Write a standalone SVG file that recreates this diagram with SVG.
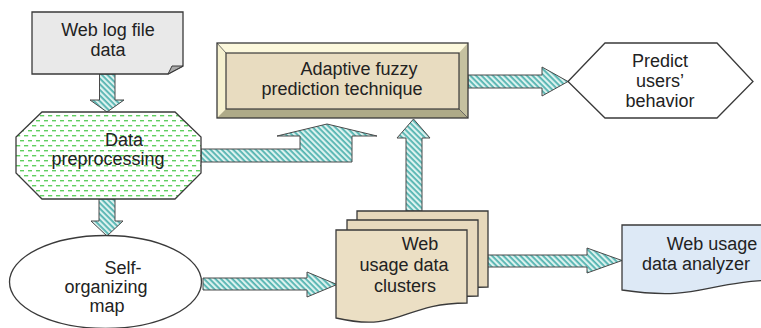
<svg xmlns="http://www.w3.org/2000/svg" width="761" height="328" viewBox="0 0 761 328">
<defs>
  <pattern id="hatch" patternUnits="userSpaceOnUse" width="4" height="4" patternTransform="rotate(45)">
    <rect width="4" height="4" fill="#dcf2ef"/>
    <rect y="0" width="4" height="1.8" fill="#52b3b0"/>
  </pattern>
  <pattern id="dash" patternUnits="userSpaceOnUse" width="8" height="10" x="16" y="114">
    <rect width="8" height="10" fill="#ffffff"/>
    <rect x="0" y="1" width="4.2" height="1.4" fill="#5fcf5f"/>
    <rect x="4" y="6" width="4.2" height="1.4" fill="#5fcf5f"/>
  </pattern>
  <style>
    .arrow { fill: url(#hatch); stroke: #4a4a4a; stroke-width: 1; stroke-linejoin: miter; }
    .edge { stroke: #3a3a3a; stroke-width: 1.3; }
    text { font-family: "Liberation Sans", Arial, sans-serif; font-size: 18px; fill: #222; text-anchor: middle; }
  </style>
</defs>
<rect width="761" height="328" fill="#ffffff"/>

<g id="connectors">
  <polygon class="arrow" points="99.5,74 115,74 115,100 124,100 107,112 90,100 99.5,100"/>
  <polygon class="arrow" points="99,199 115,199 115,221 123,221 107,236 91,221 99,221"/>
  <polygon class="arrow" points="201,149 300,149 300,136 277,136 327,124 377,136 352,136 352,162 201,162"/>
  <polygon class="arrow" points="406,211 406,138 397,138 413.5,119 430,138 422,138 422,211"/>
  <polygon class="arrow" points="468,75 542,75 542,67 568,81.5 542,96 542,88 468,88"/>
  <polygon class="arrow" points="203,278 307,278 307,272 337,284.5 307,297 307,290 203,290"/>
  <polygon class="arrow" points="467,255 587,255 587,248 622,260.5 587,273 587,267 467,267"/>
</g>

<g id="web-log-file">
  <path class="edge" d="M32,12 H183 V66 L168,74 H32 Z" fill="#e9e9e9"/>
  <path d="M183,66 L168,74 L172,66 Z" fill="#a9a9a9" stroke="#3a3a3a" stroke-width="1"/>
  <text x="108" y="36">Web log file</text>
  <text x="108" y="56">data</text>
</g>

<g id="data-preprocessing">
  <polygon class="edge" points="42,112 175,112 201,137 201,173 175,199 42,199 16,173 16,137" fill="url(#dash)"/>
  <text x="124" y="146">Data</text>
  <text x="108" y="165">preprocessing</text>
</g>

<g id="adaptive-fuzzy">
  <rect x="217" y="43" width="251" height="75" fill="#e8dcc0"/>
  <polygon points="217,43 468,43 459,53 226,53" fill="#fcf8dc"/>
  <polygon points="217,43 226,53 226,109 217,118" fill="#f6f1cf"/>
  <polygon points="468,43 468,118 459,109 459,53" fill="#c5c1a0"/>
  <polygon points="217,118 468,118 459,109 226,109" fill="#aeaa88"/>
  <line x1="217" y1="43" x2="226" y2="53" stroke="#555" stroke-width="0.8"/>
  <line x1="468" y1="118" x2="459" y2="109" stroke="#555" stroke-width="0.8"/>
  <rect x="226" y="53" width="233" height="56" fill="#e8dcc0" stroke="#3a3a3a" stroke-width="1.2"/>
  <rect class="edge" x="217" y="43" width="251" height="75" fill="none"/>
  <text x="359" y="75">Adaptive fuzzy</text>
  <text x="342" y="95">prediction technique</text>
</g>

<g id="predict-users-behavior">
  <polygon class="edge" points="568,81.5 605,43 717,43 753,81.5 717,118 605,118" fill="#ffffff"/>
  <text x="660" y="67">Predict</text>
  <text x="660" y="87">users’</text>
  <text x="660" y="107">behavior</text>
</g>

<g id="self-organizing-map">
  <ellipse class="edge" cx="105.5" cy="282" rx="96" ry="46.5" fill="#ffffff"/>
  <text x="123" y="274">Self-</text>
  <text x="106" y="293">organizing</text>
  <text x="107" y="312">map</text>
</g>

<g id="web-usage-data-clusters">
  <path class="edge" d="M357,211 H488 V287 C422.5,287 422.5,315 357,300 Z" fill="#e6d8bb"/>
  <path class="edge" d="M347,220 H478 V296 C412.5,296 412.5,324 347,309 Z" fill="#e8dabe"/>
  <path class="edge" d="M336,230 H467 V303 C401.5,303 401.5,333 336,318 Z" fill="#ebdfc4"/>
  <text x="420" y="250">Web</text>
  <text x="404" y="271">usage data</text>
  <text x="405" y="292">clusters</text>
</g>

<g id="web-usage-data-analyzer">
  <path class="edge" d="M622,225 H785 V280 C703,280 703,302 622,290 Z" fill="#dde9f6"/>
  <text x="712" y="250">Web usage</text>
  <text x="696" y="270">data analyzer</text>
</g>
</svg>
